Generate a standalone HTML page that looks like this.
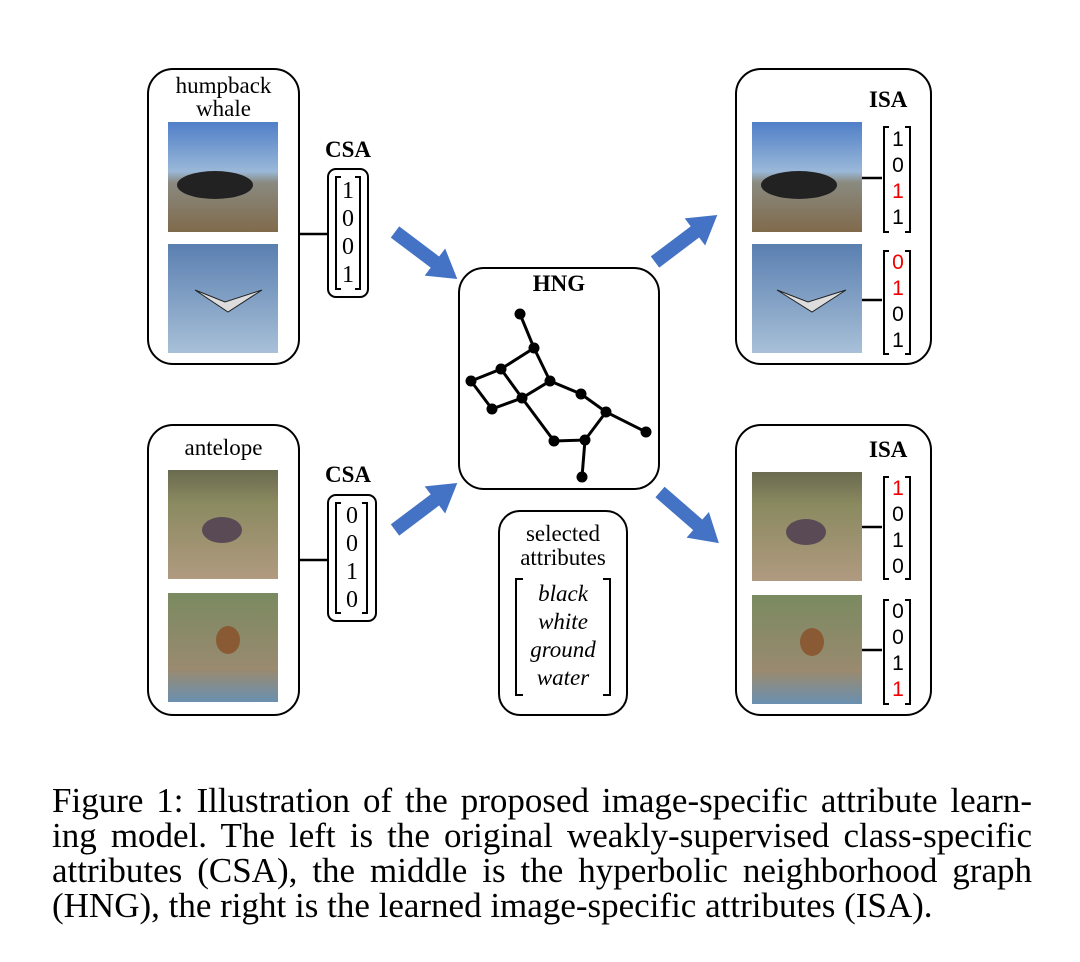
<!DOCTYPE html>
<html><head><meta charset="utf-8"><style>
body{margin:0;background:#fff;}
#c{position:relative;width:1080px;height:962px;overflow:hidden;font-family:"Liberation Serif",serif;}
.box{position:absolute;border:2.5px solid #000;border-radius:26px;box-sizing:border-box;}
.t{position:absolute;color:#000;}
.vec{position:absolute;font-family:"Liberation Sans",sans-serif;font-size:21px;line-height:26px;text-align:center;width:20px;}
.br{position:absolute;border:2px solid #000;width:6px;box-sizing:border-box;}
.r{color:#e00;}
.cap{position:absolute;left:52px;width:980px;font-size:35px;line-height:35px;text-align:justify;text-align-last:justify;white-space:nowrap;}
</style></head><body><div id="c">
<svg width="1080" height="962" style="position:absolute;left:0;top:0">
<defs>
<linearGradient id="w1" x1="0" y1="0" x2="0" y2="1"><stop offset="0" stop-color="#4f7fc8"/><stop offset="0.45" stop-color="#9ab8d8"/><stop offset="0.55" stop-color="#8a8a80"/><stop offset="1" stop-color="#806a4c"/></linearGradient>
<linearGradient id="w2" x1="0" y1="0" x2="0" y2="1"><stop offset="0" stop-color="#5a7fb0"/><stop offset="1" stop-color="#a8c0d8"/></linearGradient>
<linearGradient id="a1" x1="0" y1="0" x2="0" y2="1"><stop offset="0" stop-color="#6a6a50"/><stop offset="0.3" stop-color="#8a8a60"/><stop offset="1" stop-color="#b09a80"/></linearGradient>
<linearGradient id="a2" x1="0" y1="0" x2="0" y2="1"><stop offset="0" stop-color="#7a8a60"/><stop offset="0.7" stop-color="#9a8a70"/><stop offset="1" stop-color="#6a90b0"/></linearGradient>
</defs>
<g>
<rect x="168" y="122" width="110" height="110" fill="url(#w1)"/><ellipse cx="215" cy="185" rx="38" ry="14" fill="#222"/>
<rect x="168" y="244" width="110" height="109" fill="url(#w2)"/><path d="M195 290 L225 302 L262 290 L228 312 Z" fill="#ddd" stroke="#222"/>
<rect x="168" y="470" width="110" height="109" fill="url(#a1)"/><ellipse cx="222" cy="530" rx="20" ry="13" fill="#5a4a55"/>
<rect x="168" y="593" width="110" height="109" fill="url(#a2)"/><ellipse cx="228" cy="640" rx="12" ry="14" fill="#8a5a35"/>
<rect x="752" y="122" width="110" height="110" fill="url(#w1)"/><ellipse cx="799" cy="185" rx="38" ry="14" fill="#222"/>
<rect x="752" y="244" width="110" height="109" fill="url(#w2)"/><path d="M777 290 L808 302 L846 290 L812 312 Z" fill="#ddd" stroke="#222"/>
<rect x="752" y="472" width="110" height="109" fill="url(#a1)"/><ellipse cx="806" cy="532" rx="20" ry="13" fill="#5a4a55"/>
<rect x="752" y="595" width="110" height="109" fill="url(#a2)"/><ellipse cx="812" cy="642" rx="12" ry="14" fill="#8a5a35"/>
</g>
<g stroke="#000" stroke-width="2.5">
<line x1="300" y1="234" x2="327" y2="234"/><line x1="300" y1="560" x2="327" y2="560"/>
<line x1="862" y1="178" x2="882" y2="178"/><line x1="862" y1="300" x2="882" y2="300"/>
<line x1="862" y1="527" x2="882" y2="527"/><line x1="862" y1="650" x2="882" y2="650"/>
</g>
<g stroke="#000" stroke-width="3" fill="none">
<polyline points="520,314 534,348 501,369 471,381 492,409 522,398 550,381 534,348"/>
<polyline points="501,369 522,398 554,441 585,440 582,477"/>
<polyline points="550,381 581,394 606,412 646,432"/>
<line x1="606" y1="412" x2="585" y2="440"/>
</g>
<g fill="#000">
<circle cx="520" cy="314" r="5.5"/><circle cx="534" cy="348" r="5.5"/><circle cx="501" cy="369" r="5.5"/><circle cx="471" cy="381" r="5.5"/><circle cx="550" cy="381" r="5.5"/><circle cx="522" cy="398" r="5.5"/><circle cx="492" cy="409" r="5.5"/><circle cx="581" cy="394" r="5.5"/><circle cx="606" cy="412" r="5.5"/><circle cx="646" cy="432" r="5.5"/><circle cx="554" cy="441" r="5.5"/><circle cx="585" cy="440" r="5.5"/><circle cx="582" cy="477" r="5.5"/>
</g>
<g fill="#4472c4">
<g transform="translate(395,232) rotate(37)"><rect x="0" y="-7" width="52" height="14"/><polygon points="50,-17 78,0 50,17"/></g>
<g transform="translate(395,530) rotate(-37)"><rect x="0" y="-7" width="52" height="14"/><polygon points="50,-17 78,0 50,17"/></g>
<g transform="translate(655,262) rotate(-37)"><rect x="0" y="-7" width="52" height="14"/><polygon points="50,-17 78,0 50,17"/></g>
<g transform="translate(660,492) rotate(41)"><rect x="0" y="-7" width="52" height="14"/><polygon points="50,-17 78,0 50,17"/></g>
</g>
</svg>
<div class="box" style="left:147px;top:68px;width:153px;height:297px"></div>
<div class="t" style="left:147px;top:74px;width:153px;text-align:center;font-size:23px;line-height:23px">humpback<br>whale</div>
<div class="box" style="left:147px;top:424px;width:153px;height:292px"></div>
<div class="t" style="left:147px;top:435px;width:153px;text-align:center;font-size:23px">antelope</div>
<div class="t" style="left:318px;top:137px;width:60px;text-align:center;font-size:23px;font-weight:bold">CSA</div>
<div class="t" style="left:318px;top:462px;width:60px;text-align:center;font-size:23px;font-weight:bold">CSA</div>
<div class="box" style="left:327px;top:168px;width:42px;height:130px;border-radius:9px"></div>
<div class="box" style="left:327px;top:494px;width:50px;height:128px;border-radius:9px"></div>
<div class="br" style="left:335px;top:176px;height:114px;border-right:none"></div><div class="br" style="left:355px;top:176px;height:114px;border-left:none"></div>
<div class="vec" style="left:338px;top:177px;font-family:'Liberation Serif',serif;font-size:24px;line-height:28px">1<br>0<br>0<br>1</div>
<div class="br" style="left:335px;top:502px;height:112px;border-right:none"></div><div class="br" style="left:362px;top:502px;height:112px;border-left:none"></div>
<div class="vec" style="left:342px;top:502px;font-family:'Liberation Serif',serif;font-size:24px;line-height:28px">0<br>0<br>1<br>0</div>
<div class="box" style="left:458px;top:267px;width:202px;height:223px"></div>
<div class="t" style="left:458px;top:271px;width:202px;text-align:center;font-size:23px;font-weight:bold">HNG</div>
<div class="box" style="left:498px;top:510px;width:130px;height:206px;border-radius:22px"></div>
<div class="t" style="left:498px;top:522px;width:130px;text-align:center;font-size:23px;line-height:24px">selected<br>attributes</div>
<div class="br" style="left:515px;top:578px;height:118px;border-right:none;width:8px"></div><div class="br" style="left:603px;top:578px;height:118px;border-left:none;width:8px"></div>
<div class="t" style="left:515px;top:580px;width:96px;text-align:center;font-size:23px;line-height:28px;font-style:italic">black<br>white<br>ground<br>water</div>
<div class="box" style="left:735px;top:68px;width:197px;height:297px"></div>
<div class="t" style="left:869px;top:87px;font-size:23px;font-weight:bold">ISA</div>
<div class="box" style="left:735px;top:424px;width:197px;height:292px"></div>
<div class="t" style="left:869px;top:437px;font-size:23px;font-weight:bold">ISA</div>
<div class="br" style="left:883px;top:126px;height:107px;border-right:none"></div><div class="br" style="left:905px;top:126px;height:107px;border-left:none"></div>
<div class="vec" style="left:888px;top:127px">1<br>0<br><span class="r">1</span><br>1</div>
<div class="br" style="left:883px;top:250px;height:105px;border-right:none"></div><div class="br" style="left:905px;top:250px;height:105px;border-left:none"></div>
<div class="vec" style="left:888px;top:250px"><span class="r">0</span><br><span class="r">1</span><br>0<br>1</div>
<div class="br" style="left:883px;top:476px;height:104px;border-right:none"></div><div class="br" style="left:905px;top:476px;height:104px;border-left:none"></div>
<div class="vec" style="left:888px;top:476px"><span class="r">1</span><br>0<br>1<br>0</div>
<div class="br" style="left:883px;top:599px;height:106px;border-right:none"></div><div class="br" style="left:905px;top:599px;height:106px;border-left:none"></div>
<div class="vec" style="left:888px;top:599px">0<br>0<br>1<br><span class="r">1</span></div>
<div class="cap" style="top:783px">Figure 1: Illustration of the proposed image-specific attribute learn-</div>
<div class="cap" style="top:818px">ing model. The left is the original weakly-supervised class-specific</div>
<div class="cap" style="top:853px">attributes (CSA), the middle is the hyperbolic neighborhood graph</div>
<div class="cap" style="top:888px;text-align-last:left">(HNG), the right is the learned image-specific attributes (ISA).</div>
</div></body></html>
